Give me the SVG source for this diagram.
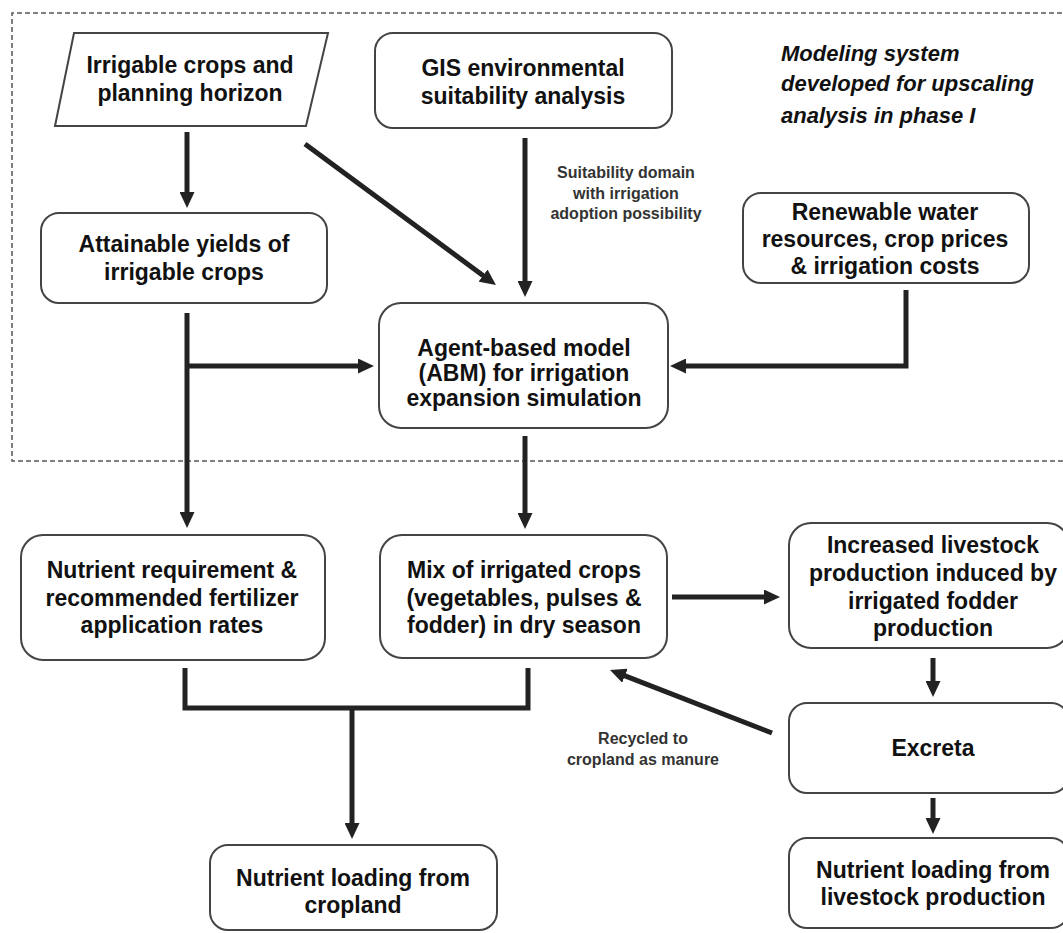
<svg xmlns="http://www.w3.org/2000/svg" width="1063" height="933" viewBox="0 0 1063 933">
<style>
.box{fill:#fff;stroke:#444;stroke-width:2}
.t{font-family:"Liberation Sans",Arial,sans-serif;font-weight:bold;font-size:23px;fill:#111;text-anchor:middle;dominant-baseline:central}
.note{font-family:"Liberation Sans",Arial,sans-serif;font-weight:bold;font-style:italic;font-size:22px;fill:#111;dominant-baseline:central}
.lbl{font-family:"Liberation Sans",Arial,sans-serif;font-weight:bold;font-size:16px;fill:#333;text-anchor:middle;dominant-baseline:central}
.c{fill:none;stroke:#222;stroke-width:5;marker-end:url(#ah)}
.cn{fill:none;stroke:#222;stroke-width:5}
.frame{fill:none;stroke:#555;stroke-width:1.5;stroke-dasharray:5 3}
</style>
<defs>
<marker id="ah" markerUnits="userSpaceOnUse" markerWidth="16" markerHeight="15" refX="4" refY="7.5" orient="auto">
<path d="M0,0 L16,7.5 L0,15 z" fill="#222"/>
</marker>
</defs>
<rect width="1063" height="933" fill="#fff"/>
<path class="frame" d="M1070,13 H12 V461 H1070"/>

<g id="n-irrigable">
<polygon class="box" points="74,33 328,33 306,126 55,126"/>
<text class="t" x="190" y="65">Irrigable crops and</text>
<text class="t" x="190" y="93">planning horizon</text>
</g>
<g id="n-gis">
<rect class="box" x="375" y="33" width="297" height="95" rx="18"/>
<text class="t" x="523" y="68">GIS environmental</text>
<text class="t" x="523" y="96">suitability analysis</text>
</g>
<g id="n-note">
<text class="note" x="781" y="53">Modeling system</text>
<text class="note" x="781" y="83">developed for upscaling</text>
<text class="note" x="781" y="115">analysis in phase I</text>
</g>
<g id="n-attainable">
<rect class="box" x="41" y="213" width="286" height="90" rx="18"/>
<text class="t" x="184" y="244">Attainable yields of</text>
<text class="t" x="184" y="272">irrigable crops</text>
</g>
<g id="n-renewable">
<rect class="box" x="743" y="193" width="286" height="90" rx="18"/>
<text class="t" x="885" y="212">Renewable water</text>
<text class="t" x="885" y="239">resources, crop prices</text>
<text class="t" x="885" y="266">&amp; irrigation costs</text>
</g>
<g id="n-abm">
<rect class="box" x="379" y="303" width="289" height="125" rx="22"/>
<text class="t" x="524" y="348">Agent-based model</text>
<text class="t" x="524" y="373">(ABM) for irrigation</text>
<text class="t" x="524" y="398">expansion simulation</text>
</g>
<g id="n-nutreq">
<rect class="box" x="21" y="535" width="304" height="125" rx="22"/>
<text class="t" x="172" y="570">Nutrient requirement &amp;</text>
<text class="t" x="172" y="598">recommended fertilizer</text>
<text class="t" x="172" y="625">application rates</text>
</g>
<g id="n-mix">
<rect class="box" x="380" y="535" width="287" height="123" rx="22"/>
<text class="t" x="524" y="570">Mix of irrigated crops</text>
<text class="t" x="524" y="598">(vegetables, pulses &amp;</text>
<text class="t" x="524" y="625">fodder) in dry season</text>
</g>
<g id="n-livestock">
<rect class="box" x="789" y="523" width="280" height="125" rx="22"/>
<text class="t" x="933" y="545">Increased livestock</text>
<text class="t" x="933" y="573">production induced by</text>
<text class="t" x="933" y="601">irrigated fodder</text>
<text class="t" x="933" y="628">production</text>
</g>
<g id="n-excreta">
<rect class="box" x="789" y="703" width="280" height="90" rx="18"/>
<text class="t" x="933" y="748">Excreta</text>
</g>
<g id="n-loadlive">
<rect class="box" x="789" y="838" width="280" height="90" rx="18"/>
<text class="t" x="933" y="870">Nutrient loading from</text>
<text class="t" x="933" y="897">livestock production</text>
</g>
<g id="n-loadcrop">
<rect class="box" x="210" y="845" width="287" height="85" rx="18"/>
<text class="t" x="353" y="878">Nutrient loading from</text>
<text class="t" x="353" y="905">cropland</text>
</g>

<g id="connectors">
<path class="c" d="M187,132 V196"/>
<path class="c" d="M305,144 L486.3,277.9"/>
<path class="c" d="M525,138 V285"/>
<path class="c" d="M187,313 V516"/>
<path class="c" d="M187,366 H362"/>
<path class="c" d="M906,290 V366 H682"/>
<path class="c" d="M525,436 V517"/>
<path class="cn" d="M185,668 V708 H528 V668"/>
<path class="c" d="M352,708 V827"/>
<path class="c" d="M672,597 H768"/>
<path class="c" d="M933,658 V685"/>
<path class="c" d="M933,798 V822"/>
<path class="c" d="M772,733 L621.2,674.3"/>
</g>
<g id="labels">
<text class="lbl" x="626" y="172">Suitability domain</text>
<text class="lbl" x="626" y="193">with irrigation</text>
<text class="lbl" x="626" y="213">adoption possibility</text>
<text class="lbl" x="643" y="738">Recycled to</text>
<text class="lbl" x="643" y="759">cropland as manure</text>
</g>
</svg>
